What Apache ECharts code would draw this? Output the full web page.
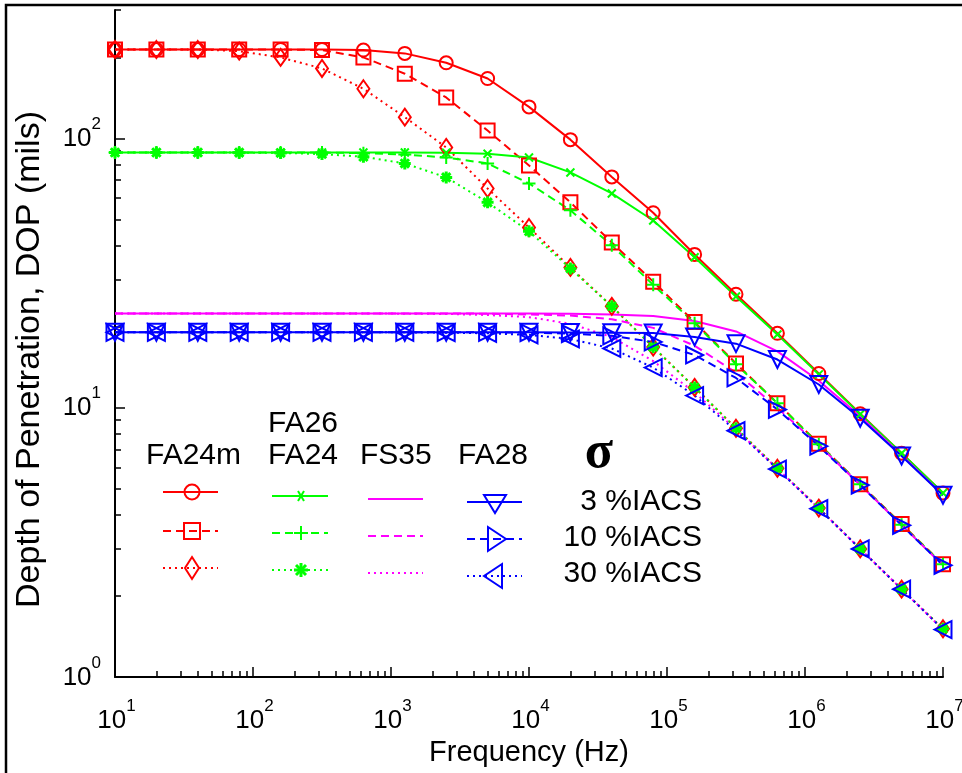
<!DOCTYPE html>
<html><head><meta charset="utf-8">
<script src="https://cdn.jsdelivr.net/npm/echarts@6/dist/echarts.min.js"></script>
<style>html,body{margin:0;padding:0;background:#fff}#c{width:962px;height:773px}</style>
</head><body><div id="c"></div>
<script>
// ---------------- DATA ----------------
const freqHz = [10, 19.95, 39.81, 79.43, 158.5, 316.2, 631.0, 1259, 2512, 5012, 10000, 19950, 39810, 79430, 158500, 316200, 631000, 1259000, 2512000, 5012000, 10000000];

// FA24m (red)
const fa24m_3  = [214, 214, 214, 214, 214, 214, 213, 207, 191, 167, 131, 99, 72, 53, 37.1, 26.4, 18.9, 13.4, 9.5, 6.78, 4.82];
const fa24m_10 = [214, 214, 214, 214, 214, 213, 200, 174, 142, 107, 79.4, 57.9, 41.1, 29.4, 20.8, 14.6, 10.4, 7.35, 5.2, 3.7, 2.62];
const fa24m_30 = [214, 214, 214, 211, 200, 182, 153, 120, 92.6, 65.2, 46.7, 33.2, 23.8, 16.8, 11.9, 8.39, 5.96, 4.24, 2.99, 2.12, 1.51];
// FA26 / FA24 (green)
const fa24_3  = [88.7, 88.7, 88.7, 88.7, 88.7, 88.7, 88.7, 88.7, 88.5, 87.8, 85.0, 74.8, 62.5, 49.6, 36.2, 25.9, 18.7, 13.3, 9.46, 6.78, 4.82];
const fa24_10 = [88.7, 88.7, 88.7, 88.7, 88.7, 88.7, 88.2, 87.2, 85.0, 80.8, 68.1, 54.1, 40.1, 28.6, 20.6, 14.5, 10.4, 7.32, 5.2, 3.68, 2.62];
const fa24_30 = [88.7, 88.7, 88.7, 88.6, 88.4, 87.5, 85.5, 80.8, 71.7, 57.9, 45.2, 32.9, 23.8, 16.8, 11.9, 8.39, 5.96, 4.24, 2.99, 2.12, 1.51];
// FS35 (magenta)
const fs35_3  = [22.4, 22.4, 22.4, 22.4, 22.4, 22.4, 22.4, 22.4, 22.4, 22.4, 22.4, 22.35, 22.2, 21.9, 21.0, 19.2, 16.2, 12.6, 9.3, 6.66, 4.74];
const fs35_10 = [22.4, 22.4, 22.4, 22.4, 22.4, 22.4, 22.4, 22.4, 22.4, 22.35, 22.2, 22.0, 21.3, 19.8, 17.0, 13.5, 10.0, 7.25, 5.17, 3.66, 2.6];
const fs35_30 = [22.4, 22.4, 22.4, 22.4, 22.4, 22.4, 22.4, 22.35, 22.3, 22.1, 21.7, 20.5, 18.3, 14.9, 11.4, 8.3, 5.94, 4.23, 2.99, 2.12, 1.5];
// FA28 (blue)
const fa28_3  = [19.06, 19.06, 19.06, 19.06, 19.06, 19.06, 19.06, 19.06, 19.06, 19.06, 19.06, 19.04, 19.0, 18.95, 18.3, 17.3, 15.1, 12.2, 9.14, 6.62, 4.73];
const fa28_10 = [19.06, 19.06, 19.06, 19.06, 19.06, 19.06, 19.06, 19.06, 19.06, 19.06, 19.0, 18.85, 18.5, 17.55, 15.7, 12.9, 9.85, 7.2, 5.16, 3.66, 2.6];
const fa28_30 = [19.06, 19.06, 19.06, 19.06, 19.06, 19.06, 19.06, 19.06, 19.0, 18.9, 18.65, 18.0, 16.6, 14.1, 11.1, 8.22, 5.92, 4.22, 2.99, 2.12, 1.5];

// tick values
const xMajorTicks = [10, 100, 1000, 10000, 100000, 1000000, 10000000];
const xMinorTicks = [20, 30, 40, 50, 60, 70, 80, 90, 200, 300, 400, 500, 600, 700, 800, 900,
  2000, 3000, 4000, 5000, 6000, 7000, 8000, 9000, 20000, 30000, 40000, 50000, 60000, 70000, 80000, 90000,
  200000, 300000, 400000, 500000, 600000, 700000, 800000, 900000, 2000000, 3000000, 4000000, 5000000, 6000000, 7000000, 8000000, 9000000];
const yMajorTicks = [1, 10, 100];
const yMinorTicks = [2, 3, 4, 5, 6, 7, 8, 9, 20, 30, 40, 50, 60, 70, 80, 90, 200, 300];

const materialNames = ['FA24m', 'FA24', 'FS35', 'FA28'];
const conductivityLabels = ['3 %IACS', '10 %IACS', '30 %IACS'];

// ---------------- STYLE ----------------
const FONT = '"Liberation Sans", Arial, Helvetica, sans-serif';
const RED = '#ff0000', GREEN = '#00ff00', MAG = '#ff00ff', BLUE = '#0000ff';
const DASHED = [8, 5], DOTTED = [2, 4];
const P_X = 'path://M0,0L10,10M10,0L0,10';
const P_PLUS = 'path://M5,0L5,10M0,5L10,5';
const P_STAR = 'path://M5,0L5,10M0,5L10,5M1.5,1.5L8.5,8.5M8.5,1.5L1.5,8.5';

function mkSeries(name, vals, color, dash, symbol, size, rotate, bw) {
  return {
    name: name, type: 'line', xAxisIndex: 0, yAxisIndex: 0,
    data: freqHz.map((f, i) => [f, vals[i]]),
    showSymbol: symbol !== 'none', showAllSymbol: true,
    symbol: symbol, symbolSize: size, symbolRotate: rotate || 0,
    lineStyle: { color: color, width: 2, type: dash },
    itemStyle: { color: 'rgba(0,0,0,0)', borderColor: color, borderWidth: bw || 2 },
    emphasis: { disabled: true }, silent: true, animation: false, z: 3
  };
}

const series = [
  mkSeries('FA24m 3', fa24m_3, RED, 'solid', 'circle', 13),
  mkSeries('FA24m 10', fa24m_10, RED, DASHED, 'rect', 14),
  mkSeries('FA24m 30', fa24m_30, RED, DOTTED, 'diamond', [12, 17]),
  mkSeries('FA24 3', fa24_3, GREEN, 'solid', P_X, 8),
  mkSeries('FA24 10', fa24_10, GREEN, DASHED, P_PLUS, 13),
  mkSeries('FA24 30', fa24_30, GREEN, DOTTED, P_STAR, 12, 0, 3),
  mkSeries('FS35 3', fs35_3, MAG, 'solid', 'none', 0),
  mkSeries('FS35 10', fs35_10, MAG, DASHED, 'none', 0),
  mkSeries('FS35 30', fs35_30, MAG, DOTTED, 'none', 0),
  mkSeries('FA28 3', fa28_3, BLUE, 'solid', 'triangle', 17, 180),
  mkSeries('FA28 10', fa28_10, BLUE, DASHED, 'triangle', 17, -90),
  mkSeries('FA28 30', fa28_30, BLUE, DOTTED, 'triangle', 17, 90)
];

// ---------------- LEGEND (drawn as graphics) ----------------
const g = [];
function sym(kind, cx, cy, color) {
  const st = { fill: 'none', stroke: color, lineWidth: 2 };
  if (kind === 'circle') g.push({ type: 'circle', shape: { cx: cx, cy: cy, r: 7.5 }, style: st });
  if (kind === 'rect') g.push({ type: 'rect', shape: { x: cx - 8, y: cy - 8, width: 16, height: 16 }, style: st });
  if (kind === 'diamond') g.push({ type: 'polygon', shape: { points: [[cx, cy - 11], [cx + 7, cy], [cx, cy + 11], [cx - 7, cy]] }, style: st });
  if (kind === 'x') g.push({ type: 'polyline', shape: { points: [[cx - 3, cy - 5], [cx + 3, cy + 5]] }, style: st },
                          { type: 'polyline', shape: { points: [[cx + 3, cy - 5], [cx - 3, cy + 5]] }, style: st });
  if (kind === 'plus') g.push({ type: 'polyline', shape: { points: [[cx, cy - 7], [cx, cy + 7]] }, style: st },
                             { type: 'polyline', shape: { points: [[cx - 7, cy], [cx + 7, cy]] }, style: st });
  if (kind === 'star') {
    const s3 = Object.assign({}, st, { lineWidth: 3 });
    g.push({ type: 'polyline', shape: { points: [[cx, cy - 7], [cx, cy + 7]] }, style: s3 },
           { type: 'polyline', shape: { points: [[cx - 7, cy], [cx + 7, cy]] }, style: s3 },
           { type: 'polyline', shape: { points: [[cx - 5, cy - 5], [cx + 5, cy + 5]] }, style: s3 },
           { type: 'polyline', shape: { points: [[cx + 5, cy - 5], [cx - 5, cy + 5]] }, style: s3 });
  }
  if (kind === 'tdown') g.push({ type: 'polygon', shape: { points: [[cx - 11, cy - 7], [cx + 11, cy - 7], [cx, cy + 11]] }, style: st });
  if (kind === 'tright') g.push({ type: 'polygon', shape: { points: [[cx - 7, cy - 12], [cx + 11, cy], [cx - 7, cy + 12]] }, style: st });
  if (kind === 'tleft') g.push({ type: 'polygon', shape: { points: [[cx + 7, cy - 12], [cx - 11, cy], [cx + 7, cy + 12]] }, style: st });
}
const legendCols = [
  { x1: 163, x2: 218, xm: 192, ys: [492, 531, 568], color: RED, syms: ['circle', 'rect', 'diamond'] },
  { x1: 272, x2: 328, xm: 301, ys: [496, 533, 570], color: GREEN, syms: ['x', 'plus', 'star'] },
  { x1: 368, x2: 423, xm: null, ys: [499, 536, 573], color: MAG, syms: [null, null, null] },
  { x1: 467, x2: 522, xm: 495, ys: [502, 539, 576], color: BLUE, syms: ['tdown', 'tright', 'tleft'] }
];
const dashes = [null, DASHED, DOTTED];
legendCols.forEach(c => {
  c.ys.forEach((y, r) => {
    g.push({ type: 'line', shape: { x1: c.x1, y1: y, x2: c.x2, y2: y },
             style: { stroke: c.color, lineWidth: 2, lineDash: dashes[r] } });
    if (c.syms[r]) sym(c.syms[r], c.xm, y, c.color);
  });
});
const tf = '30px ' + FONT;
function txt(t, x, y, align, font) {
  g.push({ type: 'text', x: x, y: y, style: { text: t, fill: '#000', font: font || tf, align: align || 'left', verticalAlign: 'middle' } });
}
txt(materialNames[0], 146, 456);
txt('FA26', 268, 424);
txt(materialNames[1], 268, 456);
txt(materialNames[2], 360, 456);
txt(materialNames[3], 458, 456);
txt('σ', 599, 454, 'center', 'bold 52px "Liberation Serif", "DejaVu Serif", serif');
txt(conductivityLabels[0], 702, 502, 'right');
txt(conductivityLabels[1], 702, 538, 'right');
txt(conductivityLabels[2], 702, 574, 'right');
// outer frame (left and top edges visible)
g.push({ type: 'rect', shape: { x: 6, y: 5, width: 980, height: 800 }, style: { fill: 'none', stroke: '#000', lineWidth: 2.5 }, z: 10 });

// ---------------- AXES ----------------
const supFmt = v => '{b|10}{s|' + Math.round(Math.log10(v)) + '}';
const rich = {
  b: { fontSize: 26, fontFamily: FONT, color: '#000', lineHeight: 36, verticalAlign: 'bottom' },
  s: { fontSize: 17, fontFamily: FONT, color: '#000', lineHeight: 14, verticalAlign: 'top' }
};
const noSplit = { show: false };

const option = {
  backgroundColor: '#fff',
  animation: false,
  grid: { left: 115, right: 19, top: 10, bottom: 96, containLabel: false, outerBoundsMode: 'none' },
  xAxis: [
    { type: 'log', logBase: 10, min: 10, max: 1e7, position: 'bottom',
      axisLine: { show: true, onZero: false, lineStyle: { color: '#000', width: 2 } },
      axisTick: { show: true, inside: true, length: 10, lineStyle: { color: '#000', width: 1.5 }, customValues: xMajorTicks },
      axisLabel: { show: true, margin: 21, padding: [0, 0, 0, 3], customValues: xMajorTicks, formatter: supFmt, rich: rich },
      splitLine: noSplit, minorTick: { show: false },
      name: 'Frequency (Hz)', nameLocation: 'middle', nameGap: 54,
      nameTextStyle: { fontSize: 29, fontFamily: FONT, color: '#000' } },
    { type: 'log', logBase: 10, min: 10, max: 1e7, position: 'bottom',
      axisLine: { show: false },
      axisTick: { show: true, inside: true, length: 6, lineStyle: { color: '#000', width: 1.5 }, customValues: xMinorTicks },
      axisLabel: { show: false }, splitLine: noSplit }
  ],
  yAxis: [
    { type: 'log', logBase: 10, min: 1, max: 300, position: 'left',
      axisLine: { show: true, onZero: false, lineStyle: { color: '#000', width: 2 } },
      axisTick: { show: true, inside: true, length: 10, lineStyle: { color: '#000', width: 1.5 }, customValues: yMajorTicks },
      axisLabel: { show: true, margin: 14, padding: [0, 0, 9, 0], customValues: yMajorTicks, formatter: supFmt, rich: rich },
      splitLine: noSplit, minorTick: { show: false },
      name: 'Depth of Penetration, DOP (mils)', nameLocation: 'middle', nameGap: 68, nameRotate: 90,
      nameTextStyle: { fontSize: 34, fontFamily: FONT, color: '#000', padding: [0, 32, 0, 0] } },
    { type: 'log', logBase: 10, min: 1, max: 300, position: 'left',
      axisLine: { show: false },
      axisTick: { show: true, inside: true, length: 6, lineStyle: { color: '#000', width: 1.5 }, customValues: yMinorTicks },
      axisLabel: { show: false }, splitLine: noSplit }
  ],
  series: series,
  graphic: { elements: g }
};

const chart = echarts.init(document.getElementById('c'), null, { renderer: 'canvas' });
chart.setOption(option);
</script>
</body></html>
